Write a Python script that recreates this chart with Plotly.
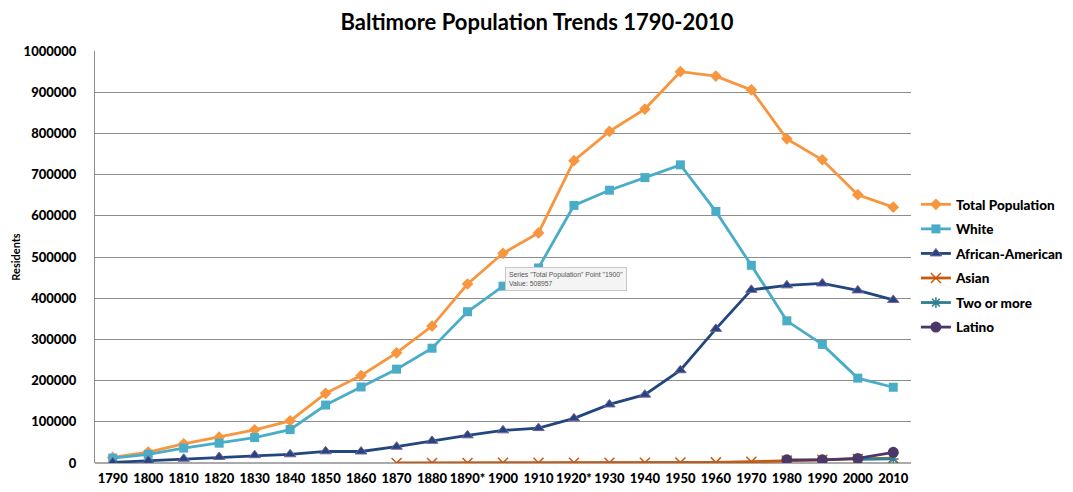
import plotly.graph_objects as go

years = ["1790", "1800", "1810", "1820", "1830", "1840", "1850", "1860", "1870", "1880",
         "1890*", "1900", "1910", "1920*", "1930", "1940", "1950", "1960", "1970", "1980",
         "1990", "2000", "2010"]

total = [13503, 26514, 46555, 62738, 80620, 102313, 169054, 212418, 267354, 332313,
         434439, 508957, 558485, 733826, 804874, 859100, 949708, 939024, 905759, 786775,
         736014, 651154, 620961]
white = [11925, 20900, 36212, 48055, 61710, 81147, 140666, 184520, 227794, 278584,
         367143, 429218, 473387, 625130, 662124, 692705, 723655, 610608, 479837, 345113,
         287753, 205982, 183830]
african_american = [1578, 5614, 10343, 14683, 18910, 21166, 28388, 27898, 39558, 53716,
                    67104, 79258, 84749, 108322, 142106, 165843, 225099, 325589, 420210, 431151,
                    435768, 418951, 395781]
asian = [None] * 8 + [50, 150, 200, 400, 400, 500, 600, 700, 1000, 1500, 3000, 5800,
                      8000, 9800, 12000]
two_or_more = [None] * 21 + [9000, 10000]
latino = [None] * 19 + [7641, 7602, 11061, 25960]

series = [
    ("Total Population", total, "#F7963F", "diamond", 9, None),
    ("White", white, "#4AADC8", "square", 9, None),
    ("African-American", african_american, "#22467E", "triangle-up", 10, "#7A5FA0"),
    ("Asian", asian, "#C65A12", "x-thin-open", 10, None),
    ("Two or more", two_or_more, "#2E7F8F", "asterisk-open", 9, None),
    ("Latino", latino, "#4A3868", "circle", 11, None),
]

TICKFONT = dict(family="Lato", size=13, color="black", weight=900)

fig = go.Figure()
for i, (name, vals, color, sym, size, outline) in enumerate(series):
    marker = dict(symbol=sym, size=size, color=color)
    if sym.endswith("-open"):
        marker["line"] = dict(color=color, width=1.5)
    elif outline:
        marker["line"] = dict(color=outline, width=1)
    else:
        marker["line"] = dict(color=color, width=0)
    fig.add_trace(go.Scatter(
        x=years, y=vals, name=name, mode="lines+markers",
        line=dict(color=color, width=2.8), marker=marker,
        legendgroup=name, connectgaps=False,
    ))

fig.add_annotation(
    x=11, y=508957, xref="x", yref="y", xanchor="left", yanchor="top",
    xshift=2, yshift=-14,
    text='Series "Total Population" Point "1900"<br>Value: 508957',
    showarrow=False, align="left",
    font=dict(family="Liberation Sans, Arial", size=6.8, color="#555555"),
    bgcolor="#F4F4F4", bordercolor="#C8C8C8", borderwidth=1, borderpad=3,
)

# page has an 8px body margin, so the figure is 8px smaller than the window
fig.update_layout(
    width=1065, height=484,
    margin=dict(l=87, r=162, t=43, b=29, autoexpand=False),
    paper_bgcolor="white", plot_bgcolor="white",
    title=dict(text="<b>Baltimore Population Trends 1790-2010</b>",
               x=529 / 1065, xref="container", xanchor="center",
               y=1 - 14 / 484, yref="container", yanchor="middle",
               font=dict(family="Lato", size=22, color="black", weight=900)),
    font=dict(family="Lato", color="black"),
    showlegend=True,
    legend=dict(x=1.006, xanchor="left", y=0.478, yanchor="middle",
                font=dict(family="Lato", size=13.5, color="black", weight=900),
                traceorder="grouped", tracegroupgap=4, itemwidth=30,
                bgcolor="rgba(0,0,0,0)"),
    xaxis=dict(type="category", range=[-0.5, 22.5], showgrid=False, automargin=False,
               showline=False, ticks="", zeroline=False,
               tickfont=TICKFONT, ticklabelstandoff=6),
    yaxis=dict(range=[0, 1000000], dtick=100000, tickformat="d", automargin=False,
               showgrid=True, gridcolor="#8C8C8C", gridwidth=1,
               showline=True, linecolor="#8C8C8C", linewidth=1,
               zeroline=True, zerolinecolor="#AAAAAA", zerolinewidth=2,
               tickfont=TICKFONT, ticks="", ticklabelstandoff=15,
               title=dict(text="<b>Residents</b>",
                          font=dict(family="Lato", size=11, weight=900), standoff=0)),
)

fig.write_html("out.html")
